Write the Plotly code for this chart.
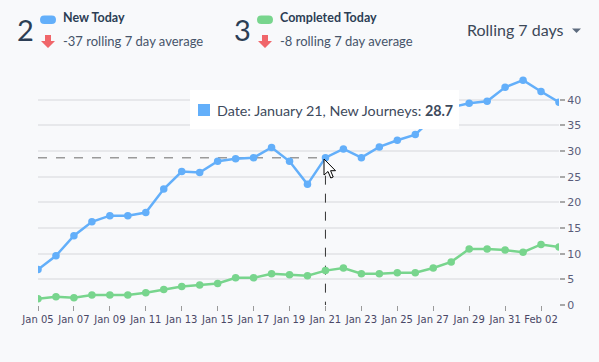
import plotly.graph_objects as go

# ---------------- data ----------------
dates = ["2021-01-05", "2021-01-06", "2021-01-07", "2021-01-08", "2021-01-09", "2021-01-10",
         "2021-01-11", "2021-01-12", "2021-01-13", "2021-01-14", "2021-01-15", "2021-01-16",
         "2021-01-17", "2021-01-18", "2021-01-19", "2021-01-20", "2021-01-21", "2021-01-22",
         "2021-01-23", "2021-01-24", "2021-01-25", "2021-01-26", "2021-01-27", "2021-01-28",
         "2021-01-29", "2021-01-30", "2021-01-31", "2021-02-01", "2021-02-02", "2021-02-03"]
new_journeys = [6.9, 9.6, 13.5, 16.2, 17.4, 17.4, 18.0, 22.6, 26.0, 25.8, 28.0, 28.5,
                28.7, 30.7, 28.0, 23.5, 28.7, 30.4, 28.7, 30.8, 32.1, 33.2, 36.5, 38.5,
                39.3, 39.7, 42.4, 43.8, 41.6, 39.5]
completed = [1.2, 1.6, 1.4, 1.95, 1.95, 1.95, 2.4, 3.0, 3.6, 3.9, 4.2, 5.3,
             5.3, 6.1, 5.9, 5.7, 6.7, 7.2, 6.1, 6.1, 6.3, 6.3, 7.2, 8.4,
             10.9, 10.9, 10.7, 10.3, 11.8, 11.3]
tick_dates = dates[:-1:2]
tick_labels = ["Jan 05", "Jan 07", "Jan 09", "Jan 11", "Jan 13", "Jan 15", "Jan 17", "Jan 19",
               "Jan 21", "Jan 23", "Jan 25", "Jan 27", "Jan 29", "Jan 31", "Feb 02"]
y_ticks = [0, 5, 10, 15, 20, 25, 30, 35, 40]
hover_index = 16
hover_label = "January 21"

BLUE = "#63affa"
GREEN = "#78d58d"
RED = "#f0666a"
NAVY = "#2c3e55"
TEXT = "#46546a"
BG = "#f8f9fb"

# plot area geometry (pixels)
W, H = 599, 362
L, R, T, B = 38, 40, 74, 57
PW, PH = W - L - R, H - T - B


def px(x):
    return (x - L) / PW


def py(y):
    return (H - B - y) / PH


fig = go.Figure()
fig.add_trace(go.Scatter(x=dates, y=new_journeys, mode="lines+markers", name="New Today",
                         line=dict(color=BLUE, width=2.5), marker=dict(size=7.5, color=BLUE)))
fig.add_trace(go.Scatter(x=dates, y=completed, mode="lines+markers", name="Completed Today",
                         line=dict(color=GREEN, width=2.5), marker=dict(size=7.5, color=GREEN)))

shapes = []
hx = dates[hover_index]
hy = new_journeys[hover_index]
# crosshair dashed lines
shapes.append(dict(type="line", xref="x", yref="y", x0=dates[0], x1=hx, y0=hy, y1=hy,
                   line=dict(color="#9a9a9a", width=1.5, dash="dash"), layer="between"))
shapes.append(dict(type="line", xref="x", yref="y", x0=hx, x1=hx, y0=hy, y1=0,
                   line=dict(color="#333333", width=1, dash="dash"), layer="between"))
# tooltip box
shapes.append(dict(type="rect", xref="paper", yref="paper", x0=px(190), x1=px(459), y0=py(90), y1=py(129),
                   fillcolor="white", line=dict(width=0), layer="above"))
shapes.append(dict(type="rect", xref="paper", yref="paper", x0=px(198), x1=px(210), y0=py(104), y1=py(116),
                   fillcolor=BLUE, line=dict(width=0), layer="above"))


def pill(x0, y0, w, h, color):
    r = h / 2
    pts = (f"M {px(x0 + r)},{py(y0)} L {px(x0 + w - r)},{py(y0)} "
           f"Q {px(x0 + w)},{py(y0)} {px(x0 + w)},{py(y0 + r)} "
           f"Q {px(x0 + w)},{py(y0 + h)} {px(x0 + w - r)},{py(y0 + h)} "
           f"L {px(x0 + r)},{py(y0 + h)} "
           f"Q {px(x0)},{py(y0 + h)} {px(x0)},{py(y0 + r)} "
           f"Q {px(x0)},{py(y0)} {px(x0 + r)},{py(y0)} Z")
    return dict(type="path", xref="paper", yref="paper", path=pts, fillcolor=color,
                line=dict(width=0), layer="above")


def down_arrow(cx, top):
    p = [(cx - 3, top), (cx + 3, top), (cx + 3, top + 6), (cx + 7, top + 6), (cx, top + 13),
         (cx - 7, top + 6), (cx - 3, top + 6)]
    path = "M " + " L ".join(f"{px(a)},{py(b)}" for a, b in p) + " Z"
    return dict(type="path", xref="paper", yref="paper", path=path, fillcolor=RED,
                line=dict(width=0), layer="above")


shapes.append(pill(40, 15.5, 16, 8.5, BLUE))
shapes.append(pill(257, 15.5, 16, 8.5, GREEN))
shapes.append(down_arrow(48, 35))
shapes.append(down_arrow(265, 35))

# dropdown caret
shapes.append(dict(type="path", xref="paper", yref="paper",
                   path=f"M {px(572)},{py(28.5)} L {px(581)},{py(28.5)} L {px(576.5)},{py(33)} Z",
                   fillcolor="#5d6b7e", line=dict(width=0), layer="above"))

# mouse cursor
cx0, cy0 = 324, 159
cur = [(0, 0), (0, 16), (4, 12.5), (6.8, 19), (9.2, 18), (6.6, 11.7), (11.5, 11.7)]
cpath = "M " + " L ".join(f"{px(cx0 + a)},{py(cy0 + b)}" for a, b in cur) + " Z"
shapes.append(dict(type="path", xref="paper", yref="paper", path=cpath, fillcolor="white",
                   line=dict(color="black", width=1), layer="above"))

F = "Lato"
ann = []


def text(x, y, s, size, color, family=F, anchor="left"):
    ann.append(dict(xref="paper", yref="paper", x=px(x), y=py(y), text=s, showarrow=False,
                    xanchor=anchor, yanchor="middle", font=dict(family=family, size=size, color=color)))


text(15, 29, "2", 29, NAVY)
text(61, 17.5, "<b>New Today</b>", 12.5, NAVY)
text(61, 41, "-37 rolling 7 day average", 13, TEXT)
text(232, 29, "3", 29, NAVY)
text(278, 17.5, "<b>Completed Today</b>", 12.5, NAVY)
text(278, 41, "-8 rolling 7 day average", 13, TEXT)
text(566, 29, "Rolling 7 days", 16, "#3c4858", anchor="right")
text(215, 110, f"Date: {hover_label}, New Journeys: <b>{hy}</b>", 14.3, "#3d4a5c")

fig.update_layout(
    width=W, height=H,
    margin=dict(l=L, r=R, t=T, b=B),
    paper_bgcolor=BG, plot_bgcolor=BG,
    showlegend=False,
    shapes=shapes, annotations=ann,
    xaxis=dict(type="date", range=[dates[0], dates[-1]], tickvals=tick_dates, ticktext=tick_labels,
               showgrid=False, zeroline=False, showline=False,
               ticks="outside", ticklen=5, tickcolor="#9a9a9a", tickwidth=1,
               tickfont=dict(family="DejaVu Sans", size=10, color="#4a4866")),
    yaxis=dict(range=[0, 45], tickvals=y_ticks, side="right", showgrid=True, gridcolor="#e7e8eb",
               gridwidth=2, zeroline=False, showline=False,
               ticks="outside", ticklen=5, tickcolor="#a8a8a8", tickwidth=2,
               tickfont=dict(family="DejaVu Sans", size=11, color="#5a5d7a")),
)

fig.write_html("out.html", config={"displayModeBar": False},
               post_script="document.body.style.margin='0px';document.body.style.background='%s';" % BG)
